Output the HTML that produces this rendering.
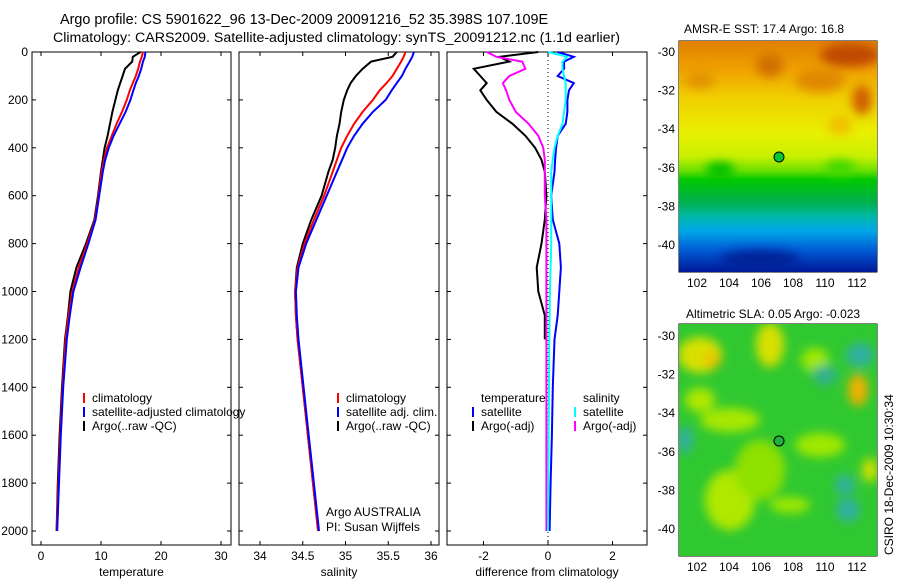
<!DOCTYPE html>
<html><head><meta charset="utf-8"><style>
body{margin:0;background:#fff;width:900px;height:580px;overflow:hidden;font-family:"Liberation Sans",sans-serif}
svg text{font-family:"Liberation Sans",sans-serif;font-size:12px;fill:#000}
</style></head><body>
<svg id="c" width="900" height="580">
<defs>
<linearGradient id="sst" x1="0" y1="0" x2="0" y2="1">
<stop offset="0" stop-color="#e08000"/><stop offset="0.12" stop-color="#f0a000"/><stop offset="0.25" stop-color="#f0d000"/>
<stop offset="0.4" stop-color="#e8f000"/><stop offset="0.5" stop-color="#c8f000"/><stop offset="0.56" stop-color="#70e000"/><stop offset="0.6" stop-color="#00c800"/>
<stop offset="0.7" stop-color="#00b050"/><stop offset="0.76" stop-color="#00b8a8"/><stop offset="0.82" stop-color="#00a8e8"/>
<stop offset="0.9" stop-color="#0060d8"/><stop offset="1" stop-color="#001898"/></linearGradient>
<filter id="bl"><feGaussianBlur stdDeviation="5"/></filter>
<clipPath id="m1"><rect x="679" y="41" width="198" height="231"/></clipPath>
<clipPath id="m2"><rect x="679" y="324" width="198" height="232"/></clipPath>
</defs>
<text x="60" y="24" style="font-size:14.4px">Argo profile: CS 5901622_96 13-Dec-2009 20091216_52 35.398S 107.109E</text>
<text x="53" y="42" style="font-size:14.2px">Climatology: CARS2009. Satellite-adjusted climatology: synTS_20091212.nc (1.1d earlier)</text>
<g id="g"></g>
<g clip-path="url(#m1)">
<rect x="679" y="41" width="198" height="231" fill="url(#sst)"/>
<g filter="url(#bl)">
<ellipse cx="850" cy="55" rx="30" ry="12" fill="#c04800"/><ellipse cx="862" cy="100" rx="10" ry="15" fill="#d06000"/>
<ellipse cx="770" cy="65" rx="14" ry="12" fill="#d07000"/><ellipse cx="700" cy="80" rx="15" ry="8" fill="#e09000"/>
<ellipse cx="820" cy="80" rx="25" ry="12" fill="#e08800"/><ellipse cx="840" cy="125" rx="12" ry="10" fill="#f0c000"/>
<ellipse cx="720" cy="170" rx="15" ry="8" fill="#00c000"/><ellipse cx="840" cy="168" rx="15" ry="8" fill="#40d800"/>
<ellipse cx="760" cy="260" rx="40" ry="10" fill="#002098"/>
</g>
<circle cx="779" cy="157" r="5" fill="#00c830" stroke="#000"/>
</g>
<g clip-path="url(#m2)">
<rect x="679" y="324" width="198" height="232" fill="#30c830"/>
<g filter="url(#bl)">
<ellipse cx="700" cy="355" rx="22" ry="18" fill="#d8e000"/><ellipse cx="712" cy="360" rx="8" ry="8" fill="#f0c000"/>
<ellipse cx="770" cy="345" rx="14" ry="22" fill="#d8e000"/><ellipse cx="858" cy="390" rx="10" ry="16" fill="#f0b000"/>
<ellipse cx="730" cy="420" rx="30" ry="12" fill="#a8e800"/><ellipse cx="755" cy="465" rx="12" ry="12" fill="#e0e000"/>
<ellipse cx="730" cy="500" rx="25" ry="30" fill="#b0e800"/><ellipse cx="820" cy="445" rx="25" ry="12" fill="#a0e800"/>
<ellipse cx="700" cy="400" rx="15" ry="12" fill="#b0e800"/><ellipse cx="815" cy="360" rx="14" ry="12" fill="#a0e800"/>
<ellipse cx="825" cy="375" rx="12" ry="10" fill="#30b090"/><ellipse cx="860" cy="355" rx="14" ry="12" fill="#30b0a0"/>
<ellipse cx="685" cy="440" rx="8" ry="14" fill="#30b0a0"/><ellipse cx="848" cy="510" rx="12" ry="12" fill="#30b0a0"/>
<ellipse cx="845" cy="485" rx="10" ry="10" fill="#30b0a0"/><ellipse cx="790" cy="505" rx="20" ry="8" fill="#a0e800"/>
<ellipse cx="870" cy="470" rx="8" ry="12" fill="#d0e000"/><ellipse cx="760" cy="470" rx="25" ry="30" fill="#90e000"/>
</g>
<circle cx="779" cy="441" r="5" fill="#20b040" stroke="#000"/>
</g>
<text x="684" y="33">AMSR-E SST: 17.4 Argo: 16.8</text>
<text x="686" y="318">Altimetric SLA: 0.05 Argo: -0.023</text>
<text transform="translate(893,555) rotate(-90)">CSIRO 18-Dec-2009 10:30:34</text>
</svg>
<script>
const depth=[0,20,40,70,100,130,160,200,250,300,350,400,450,500,600,700,800,900,1000,1100,1200,1400,1600,1800,2000];
const tClim=[17,16.8,16.5,16.2,15.8,15.3,14.8,14.3,13.5,12.6,11.8,11.0,10.5,10.1,9.6,9.0,7.7,6.3,5.2,4.6,4.1,3.6,3.2,2.9,2.6];
const tSat=[17.4,17.3,17.0,16.7,16.3,15.8,15.4,14.9,14.1,13.1,12.1,11.3,10.7,10.3,9.7,9.1,7.9,6.6,5.4,4.8,4.3,3.7,3.3,3.0,2.7];
const tArgo=[16.6,15.3,15.2,14.0,13.6,13.2,12.8,12.4,11.9,11.5,11.1,10.6,10.3,10.0,9.5,8.9,7.5,5.9,4.9,4.5,4.0,3.5,3.1,2.8,2.6];
const sClim=[35.7,35.68,35.65,35.6,35.55,35.48,35.4,35.32,35.2,35.1,35.02,34.95,34.9,34.85,34.75,34.63,34.52,34.44,34.41,34.42,34.44,34.5,34.56,34.62,34.68];
const sSat=[35.8,35.78,35.75,35.7,35.66,35.6,35.54,35.47,35.32,35.2,35.1,35.02,34.96,34.9,34.78,34.66,34.54,34.45,34.42,34.43,34.45,34.51,34.57,34.63,34.69];
const sArgo=[35.6,35.55,35.3,35.2,35.12,35.06,35.02,34.98,34.95,34.93,34.9,34.88,34.85,34.8,34.72,34.6,34.5,34.43,34.41,34.42,34.44,34.5,34.56,34.62,34.68];
const dTArgo=[-0.3,-1.5,-1.2,-2.3,-2.1,-1.9,-2.1,-1.9,-1.6,-1.1,-0.7,-0.4,-0.2,-0.1,-0.05,-0.1,-0.2,-0.35,-0.3,-0.1,-0.1,null,null,null,null];
const dSArgo=[-1.9,-1.6,-0.8,-0.7,-1.2,-1.4,-1.3,-1.2,-1.0,-0.6,-0.3,-0.15,-0.1,-0.1,-0.1,-0.05,-0.05,-0.05,-0.05,-0.05,-0.05,-0.05,-0.05,-0.05,-0.05];
const dTSat=[0.3,0.8,0.5,0.5,0.3,0.8,0.65,0.6,0.6,0.55,0.3,0.25,0.22,0.2,0.1,0.15,0.35,0.4,0.35,0.3,0.2,0.15,0.12,0.08,0.05];
const dSSat=[0.0,0.6,0.45,0.45,0.5,0.55,0.55,0.55,0.5,0.45,0.3,0.2,0.15,0.1,0.1,0.1,0.1,0.08,0.06,0.05,0.04,0.03,0.02,0.01,0.0];
const depthTicks=[0,200,400,600,800,1000,1200,1400,1600,1800,2000];
const NS='http://www.w3.org/2000/svg',G=document.getElementById('g');
const y=d=>52+d*0.2395;
function el(t,a,p){const e=document.createElementNS(NS,t);for(const k in a)e.setAttribute(k,a[k]);(p||G).appendChild(e);return e;}
const panels=[
 {x0:32,x1:231,xf:v=>41+6*v,ticks:[0,10,20,30],lab:'temperature',name:'temperature-panel'},
 {x0:239,x1:439,xf:v=>260+85.5*(v-34),ticks:[34,34.5,35,35.5,36],lab:'salinity',name:'salinity-panel'},
 {x0:447,x1:647,xf:v=>548+32.25*v,ticks:[-2,0,2],lab:'difference from climatology',name:'difference-panel'}];
panels.forEach((p,i)=>{
 const g=el('g',{});
 
 
 el('rect',{x:p.x0,y:52,width:p.x1-p.x0,height:493,fill:'none',stroke:'#000'},g);
 p.ticks.forEach(t=>{const X=p.xf(t);el('line',{x1:X,x2:X,y1:545,y2:541,stroke:'#000'},g);el('line',{x1:X,x2:X,y1:52,y2:56,stroke:'#000'},g);
  const tx=el('text',{x:X,y:560,'text-anchor':'middle'},g);tx.textContent=t;
  
  });
 depthTicks.forEach(d=>{el('line',{x1:p.x0,x2:p.x0+4,y1:y(d),y2:y(d),stroke:'#000'},g);el('line',{x1:p.x1,x2:p.x1-4,y1:y(d),y2:y(d),stroke:'#000'},g);
  if(i==0){const tx=el('text',{x:28,y:y(d)+4,'text-anchor':'end'},g);tx.textContent=d;
  
  }});
 const xl=el('text',{x:(p.x0+p.x1)/2,y:576,'text-anchor':'middle'},g);xl.textContent=p.lab;
 
 
});
function line(vals,xf,col,name){let s='';let m=true;vals.forEach((v,k)=>{if(v==null){m=true;return;}s+=(m?'M':'L')+xf(v).toFixed(1)+','+y(depth[k]).toFixed(1);m=false;});
 const e=el('path',{d:s,fill:'none',stroke:col,'stroke-width':2});
 
 }
el('line',{x1:548,x2:548,y1:52,y2:545,stroke:'#000','stroke-dasharray':'1,3'});
line(tArgo,panels[0].xf,'#000','temp-argo-line');line(tClim,panels[0].xf,'#f00','temp-clim-line');line(tSat,panels[0].xf,'#00f','temp-sat-line');
line(sArgo,panels[1].xf,'#000','sal-argo-line');line(sClim,panels[1].xf,'#f00','sal-clim-line');line(sSat,panels[1].xf,'#00f','sal-sat-line');
line(dTArgo,panels[2].xf,'#000','dtemp-argo-line');line(dSArgo,panels[2].xf,'#f0f','dsal-argo-line');line(dTSat,panels[2].xf,'#00f','dtemp-sat-line');line(dSSat,panels[2].xf,'#0ff','dsal-sat-line');
function leg(x,yy,col,txt){if(col)el('line',{x1:x,x2:x,y1:yy-9,y2:yy+1,stroke:col,'stroke-width':2});const t=el('text',{x:x+(col?8:0),y:yy});t.textContent=txt;
 
 }
leg(84,402,'#f00','climatology');leg(84,416,'#00f','satellite-adjusted climatology');leg(84,430,'#000','Argo(..raw -QC)');
leg(338,402,'#f00','climatology');leg(338,416,'#00f','satellite adj. clim.');leg(338,430,'#000','Argo(..raw -QC)');
leg(481,402,null,'temperature');leg(473,416,'#00f','satellite');leg(473,430,'#000','Argo(-adj)');
leg(583,402,null,'salinity');leg(575,416,'#0ff','satellite');leg(575,430,'#f0f','Argo(-adj)');
leg(326,516,null,'Argo AUSTRALIA');leg(326,531,null,'PI: Susan Wijffels');
[[41,272,52,245],[324,556,336,529]].forEach(m=>{
 el('rect',{x:679,y:m[0],width:198,height:m[1]-m[0],fill:'none',stroke:'#000'});
 for(let k=0;k<=5;k++){const Y=m[2]+k*(m[3]-m[2])/5;el('line',{x1:877,x2:873,y1:Y,y2:Y,stroke:'#000'});el('line',{x1:679,x2:683,y1:Y,y2:Y,stroke:'#000'});
  const t=el('text',{x:675,y:Y+4,'text-anchor':'end'});t.textContent=-30-2*k;
  
  }
 for(let k=0;k<6;k++){const X=697+k*32;el('line',{x1:X,x2:X,y1:m[1],y2:m[1]-4,stroke:'#000'});el('line',{x1:X,x2:X,y1:m[0],y2:m[0]+4,stroke:'#000'});
  const t=el('text',{x:X,y:m[1]+15,'text-anchor':'middle'});t.textContent=102+2*k;
  
  }
});
</script>
</body></html>
